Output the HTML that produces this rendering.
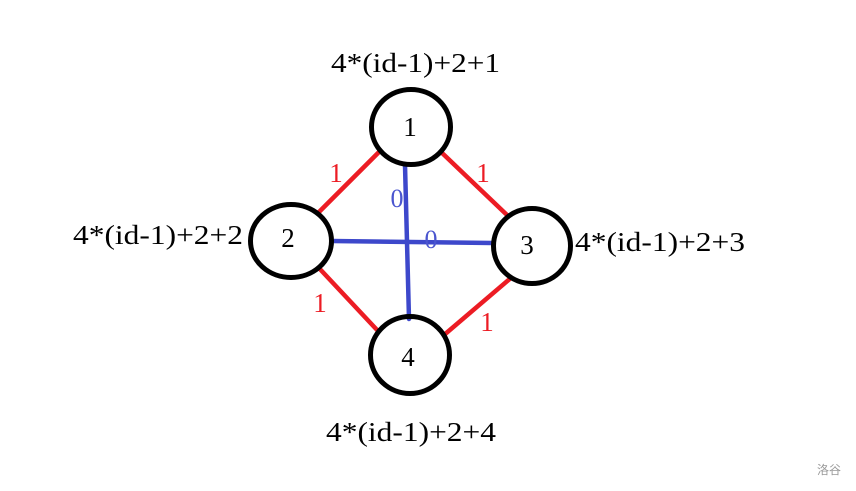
<!DOCTYPE html>
<html><head><meta charset="utf-8"><style>
html,body{margin:0;padding:0;background:#fff;}
svg{display:block;}
</style></head><body>
<svg width="856" height="491" viewBox="0 0 856 491" xmlns="http://www.w3.org/2000/svg">
<rect width="856" height="491" fill="#fff"/>
<!-- red edges -->
<g stroke="#ec1c24" stroke-width="4.5" stroke-linecap="butt">
<line x1="380" y1="151" x2="317" y2="214"/>
<line x1="440" y1="151" x2="507" y2="215"/>
<line x1="318" y1="267" x2="378" y2="331"/>
<line x1="512" y1="277" x2="444" y2="335"/>
</g>
<!-- blue edges -->
<g stroke="#3d48cb" stroke-width="4.5" stroke-linecap="round">
<line x1="405" y1="165" x2="409" y2="319"/>
<line x1="332" y1="241" x2="492" y2="243"/>
</g>
<!-- nodes -->
<g fill="none" stroke="#000" stroke-width="5">
<ellipse cx="411" cy="127" rx="39.5" ry="37.5"/>
<ellipse cx="291" cy="241" rx="40.5" ry="36.5"/>
<ellipse cx="532" cy="246" rx="38.5" ry="37.5"/>
<ellipse cx="410" cy="355" rx="39.5" ry="38.5"/>
</g>
<g font-family="'Liberation Serif', serif" font-size="27" fill="#000" text-anchor="middle">
<text x="410" y="136">1</text>
<text x="288" y="247">2</text>
<text x="527" y="254">3</text>
<text x="408" y="366">4</text>
</g>
<g font-family="'Liberation Serif', serif" font-size="27" fill="#000">
<text x="331" y="72" textLength="169" lengthAdjust="spacingAndGlyphs">4*(id-1)+2+1</text>
<text x="73" y="244" textLength="170" lengthAdjust="spacingAndGlyphs">4*(id-1)+2+2</text>
<text x="575" y="251" textLength="170" lengthAdjust="spacingAndGlyphs">4*(id-1)+2+3</text>
<text x="326" y="441" textLength="170" lengthAdjust="spacingAndGlyphs">4*(id-1)+2+4</text>
</g>
<g font-family="'Liberation Serif', serif" font-size="27" fill="#ec1c24" text-anchor="middle">
<text x="336" y="182">1</text>
<text x="483" y="182">1</text>
<text x="320" y="312">1</text>
<text x="487" y="331">1</text>
</g>
<g font-family="'Liberation Serif', serif" font-size="26" fill="#4a55cf" text-anchor="middle">
<text x="397" y="207">0</text>
<text x="431" y="248">0</text>
</g>
<text x="829" y="474" font-family="'Liberation Sans','Noto Sans CJK SC',sans-serif" font-size="12" fill="#999" text-anchor="middle">洛谷</text>
</svg>
</body></html>
